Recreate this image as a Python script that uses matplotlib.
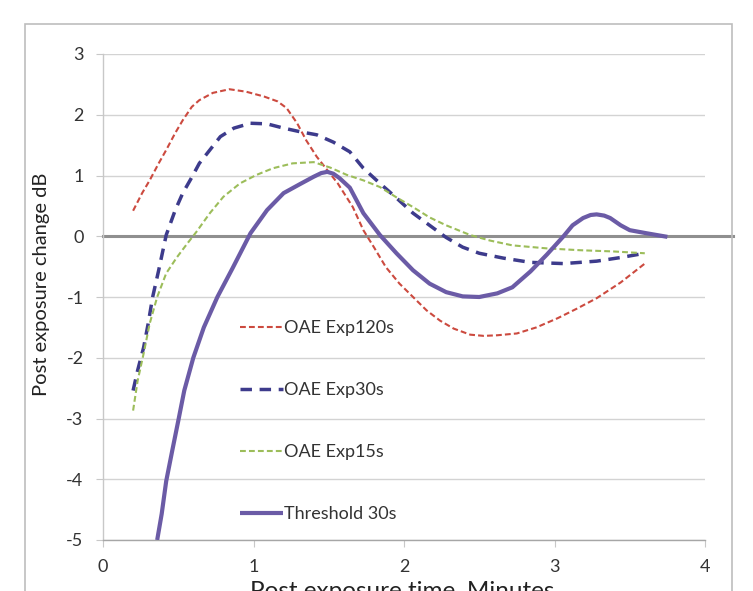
import matplotlib
matplotlib.use("Agg")
import matplotlib.pyplot as plt
from matplotlib.patches import Rectangle

plt.rcParams['font.family'] = ['Lato', 'DejaVu Sans']
plt.rcParams['axes.unicode_minus'] = False

# ---- data ----
x_120 = [0.20, 0.26, 0.31, 0.37, 0.42, 0.48, 0.53, 0.59, 0.64, 0.73, 0.84, 0.95,
         1.07, 1.16, 1.22, 1.29, 1.35, 1.42, 1.49, 1.56, 1.66, 1.73, 1.80, 1.88,
         1.97, 2.06, 2.15, 2.24, 2.33, 2.44, 2.53, 2.62, 2.75, 2.88, 3.02, 3.15,
         3.28, 3.44, 3.60]
y_120 = [0.42, 0.71, 0.92, 1.20, 1.42, 1.70, 1.91, 2.13, 2.24, 2.36, 2.42, 2.38,
         2.30, 2.22, 2.11, 1.86, 1.58, 1.31, 1.09, 0.87, 0.48, 0.10, -0.18, -0.51,
         -0.78, -1.00, -1.22, -1.39, -1.52, -1.62, -1.64, -1.63, -1.60, -1.50, -1.35, -1.19,
         -1.02, -0.76, -0.45]

x_30 = [0.20, 0.23, 0.27, 0.30, 0.33, 0.37, 0.42, 0.48, 0.53, 0.59, 0.64, 0.71,
        0.78, 0.87, 0.98, 1.09, 1.20, 1.31, 1.42, 1.53, 1.64, 1.73, 1.84, 1.95,
        2.06, 2.17, 2.28, 2.39, 2.50, 2.66, 2.84, 3.06, 3.28, 3.44, 3.60]
y_30 = [-2.54, -2.21, -1.83, -1.44, -1.00, -0.56, 0.02, 0.43, 0.71, 0.97, 1.20, 1.42,
        1.64, 1.78, 1.86, 1.85, 1.78, 1.72, 1.67, 1.55, 1.39, 1.12, 0.87, 0.63,
        0.38, 0.18, -0.02, -0.18, -0.28, -0.36, -0.43, -0.45, -0.41, -0.35, -0.28]

x_15 = [0.20, 0.23, 0.27, 0.31, 0.36, 0.42, 0.49, 0.56, 0.62, 0.71, 0.80, 0.91,
        1.02, 1.13, 1.26, 1.40, 1.51, 1.62, 1.73, 1.84, 1.95, 2.06, 2.17, 2.28,
        2.44, 2.57, 2.72, 2.95, 3.17, 3.39, 3.60]
y_15 = [-2.87, -2.38, -1.93, -1.44, -1.00, -0.61, -0.35, -0.12, 0.07, 0.38, 0.65, 0.87,
        1.01, 1.12, 1.20, 1.22, 1.13, 1.01, 0.92, 0.81, 0.64, 0.48, 0.31, 0.18,
        0.02, -0.07, -0.15, -0.20, -0.23, -0.25, -0.28]

x_th = [0.36, 0.39, 0.42, 0.46, 0.50, 0.54, 0.60, 0.67, 0.76, 0.86, 0.98, 1.09,
        1.20, 1.31, 1.40, 1.45, 1.49, 1.53, 1.57, 1.64, 1.73, 1.84, 1.95, 2.06,
        2.17, 2.28, 2.39, 2.50, 2.62, 2.72, 2.84, 2.95, 3.06, 3.12, 3.19, 3.24,
        3.28, 3.33, 3.37, 3.44, 3.50, 3.61, 3.75]
y_th = [-5.00, -4.57, -4.03, -3.53, -3.04, -2.54, -2.00, -1.50, -1.00, -0.53, 0.05, 0.43,
        0.71, 0.86, 0.98, 1.04, 1.06, 1.03, 0.96, 0.80, 0.38, 0.02, -0.28, -0.56,
        -0.78, -0.92, -0.99, -1.00, -0.94, -0.84, -0.58, -0.30, 0.00, 0.18, 0.30, 0.35,
        0.36, 0.34, 0.30, 0.18, 0.10, 0.05, -0.01]

labels = ["OAE Exp120s", "OAE Exp30s", "OAE Exp15s", "Threshold 30s"]
x_ticks = [0, 1, 2, 3, 4]
y_ticks = [-5, -4, -3, -2, -1, 0, 1, 2, 3]

# ---- figure ----
fig = plt.figure(figsize=(7.53, 5.91), dpi=100)
ax = fig.add_axes([103/753, 1-540/591, (705-103)/753, (540-54)/591])

fig.patches.append(Rectangle((25/753, -0.1), (732-25)/753, 1.1 - 24/591,
                             transform=fig.transFigure, fill=False,
                             ec='#bdbdbd', lw=1.2))

ax.set_xlim(0, 4)
ax.set_ylim(-5, 3)
ax.set_xticks(x_ticks)
ax.set_yticks(y_ticks)

for yv in y_ticks:
    ax.plot([0, 4], [yv, yv], color='#d3d3d3', lw=1.0, zorder=1)

ax.plot([0, 4.186], [0, 0], color='#8f8f8f', lw=2.2, zorder=2, clip_on=False)

ax.plot(x_120, y_120, color='#cc4a3f', lw=1.5, ls=(0, (2.8, 1.5)), label=labels[0], zorder=3)
ax.plot(x_30, y_30, color='#3d3b8c', lw=2.5, ls=(0, (3.3, 2.2)), label=labels[1], zorder=3)
ax.plot(x_15, y_15, color='#9cbd5a', lw=1.5, ls=(0, (2.8, 1.5)), label=labels[2], zorder=3)
ax.plot(x_th, y_th, color='#6b5ba6', lw=3.0, ls='-', label=labels[3], zorder=4,
        solid_capstyle='butt', solid_joinstyle='round')

for s in ['top', 'right']:
    ax.spines[s].set_visible(False)
ax.spines['left'].set_color('#c8c8c8')
ax.spines['bottom'].set_color('#a6a6a6')
ax.spines['left'].set_linewidth(1.0)
ax.spines['bottom'].set_linewidth(1.0)

ax.tick_params(axis='y', length=5, color='#c8c8c8', pad=9, labelsize=13, labelcolor='#333333')
ax.tick_params(axis='x', length=5, color='#c8c8c8', pad=9, labelsize=13, labelcolor='#333333')

ax.set_ylabel("Post exposure change dB", fontsize=14.5, color='#222222')
ax.yaxis.set_label_coords((50-103)/602, (540-284)/486)

fig.text(402/753, 1-598.5/591, "Post exposure time, Minutes", fontsize=17.5,
         ha='center', va='baseline', color='#222222')

fs = 13
leg = ax.legend(loc='center left', bbox_to_anchor=((240-0.4*fs*100/72)/753, 1-421/591),
                bbox_transform=fig.transFigure, frameon=False, fontsize=fs,
                handlelength=2.38, handletextpad=0.05, labelspacing=2.55,
                borderaxespad=0)
for t in leg.get_texts():
    t.set_color('#333333')

fig.savefig("out.png", dpi=100)
